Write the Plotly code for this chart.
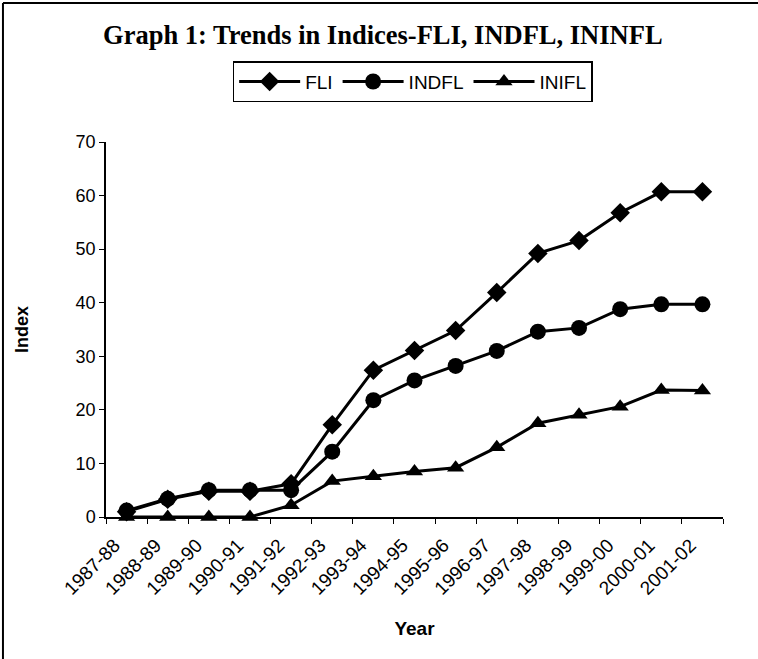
import plotly.graph_objects as go

years = ["1987-88", "1988-89", "1989-90", "1990-91", "1991-92", "1992-93", "1993-94",
         "1994-95", "1995-96", "1996-97", "1997-98", "1998-99", "1999-00", "2000-01", "2001-02"]
fli = [1.0, 3.3, 4.8, 4.8, 6.2, 17.2, 27.4, 31.1, 34.8, 41.9, 49.2, 51.6, 56.8, 60.7, 60.7]
indfl = [1.2, 3.4, 5.0, 5.0, 5.0, 12.2, 21.8, 25.5, 28.2, 31.0, 34.6, 35.3, 38.8, 39.7, 39.7]
inifl = [0.0, 0.0, 0.0, 0.0, 2.2, 6.7, 7.6, 8.5, 9.2, 13.0, 17.5, 19.1, 20.6, 23.7, 23.6]

series = [("FLI", fli, "diamond", 15), ("INDFL", indfl, "circle", 16), ("INIFL", inifl, "triangle-up", 15)]

fig = go.Figure()
for name, vals, sym, sz in series:
    fig.add_trace(go.Scatter(
        x=years, y=vals, name=name, mode="lines+markers",
        line=dict(color="black", width=3),
        marker=dict(symbol=sym, size=sz, color="black"),
        cliponaxis=False,
    ))

sans = "Liberation Sans, Arial, sans-serif"
tick_font = dict(family=sans, size=19, color="black")

fig.update_layout(
    width=758, height=659,
    margin=dict(l=106, r=35, t=142, b=142),
    paper_bgcolor="white", plot_bgcolor="white",
    title=dict(text="<b>Graph 1: Trends in Indices-FLI, INDFL, ININFL</b>",
               font=dict(family="Liberation Serif, Times New Roman, serif", size=26.5, color="black"),
               x=0.505, xanchor="center", y=0.947, yanchor="middle"),
    legend=dict(orientation="h", x=0.497, xanchor="center", y=1.161, yanchor="middle",
                bordercolor="black", borderwidth=1.5,
                font=dict(family=sans, size=19, color="black"),
                itemwidth=61, tracegroupgap=0),
    showlegend=True,
)

fig.update_xaxes(
    type="category", range=[-0.5, 14.5],
    showline=True, linecolor="black", linewidth=1.5,
    ticks="outside", tickson="boundaries", ticklen=5, tickcolor="black",
    tickangle=-45, tickfont=tick_font, ticklabelstandoff=8, ticklabelshift=-12,
    showgrid=False, zeroline=False,
    title=dict(text="<b>Year</b>", font=dict(family=sans, size=19, color="black"),
               standoff=24),
)
fig.update_yaxes(
    range=[0, 70], dtick=10,
    showline=True, linecolor="black", linewidth=1.5,
    ticks="outside", ticklen=5, tickcolor="black",
    tickfont=dict(family=sans, size=18, color="black"), showgrid=False, zeroline=False,
    title=dict(text="<b>Index</b>", font=dict(family=sans, size=18, color="black"),
               standoff=42),
)

fig.add_shape(type="line", xref="paper", yref="paper", x0=-0.167, x1=1.06, y0=1.3707, y1=1.3707,
              line=dict(color="black", width=2))
fig.add_shape(type="line", xref="paper", yref="paper", x0=-0.167, x1=-0.167, y0=1.3707, y1=-0.38,
              line=dict(color="black", width=2))

fig.write_html("out.html", config={"displayModeBar": False},
               post_script="document.body.style.margin='0';document.body.style.overflow='hidden';")
